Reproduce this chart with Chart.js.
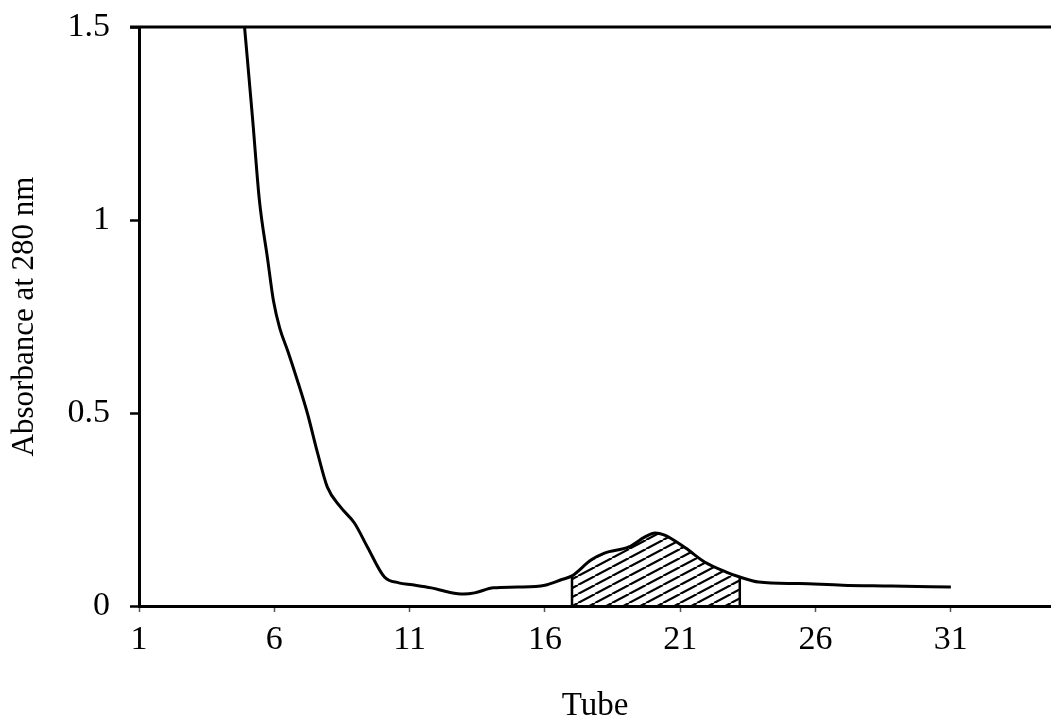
<!DOCTYPE html>
<html>
<head>
<meta charset="utf-8">
<script src="https://cdn.jsdelivr.net/npm/chart.js@4.4.1/dist/chart.umd.min.js"></script>
<style>
  html, body { margin: 0; padding: 0; background: #fff; }
</style>
</head>
<body>
<canvas id="chart" width="1051" height="726"></canvas>
<script>
// absorbance profile along the collected tubes
const tubes = [4.9, 5.2, 5.45, 5.75, 5.97, 6.2, 6.5, 6.85, 7.22, 7.6, 7.96, 8.45, 8.96, 9.44,
  10.07, 10.6, 11.1, 11.8, 12.5, 13.0, 13.4, 14.1, 15.0, 16.0, 16.6, 17.0, 17.7, 18.2,
  19.1, 19.7, 20.07, 20.4, 21.2, 21.9, 22.7, 23.2, 23.9, 25.4, 27.0, 28.8, 31.0]
const absorbance = [1.5, 1.26, 1.05, 0.9, 0.79, 0.72, 0.66, 0.585, 0.5, 0.396, 0.308, 0.256, 0.215, 0.153,
  0.075, 0.06, 0.055, 0.047, 0.035, 0.031, 0.034, 0.047, 0.049, 0.054, 0.068, 0.078, 0.119, 0.137,
  0.153, 0.179, 0.189, 0.184, 0.15, 0.114, 0.088, 0.075, 0.062, 0.058, 0.054, 0.052, 0.049]

// pooled fractions (hatched)
const poolFrom = 17.0
const poolTo = 23.2

const xTicks = [1, 6, 11, 16, 21, 26, 31]
const yTicks = [0, 0.5, 1, 1.5]
const yTickLabels = ['0', '0.5', '1', '1.5']

const points = tubes.map((t, i) => ({ x: t, y: absorbance[i] }))
const pooled = points.filter(p => p.x >= poolFrom && p.x <= poolTo)

// diagonal hatch tile
const tile = document.createElement('canvas')
tile.width = 17
tile.height = 9
const tctx = tile.getContext('2d')
tctx.strokeStyle = '#000'
tctx.lineWidth = 2.2
for (let dx = -17; dx <= 17; dx += 17) {
  tctx.beginPath()
  tctx.moveTo(dx, 9)
  tctx.lineTo(dx + 17, 0)
  tctx.stroke()
}
const hatch = tctx.createPattern(tile, 'repeat')

const serif = 'Liberation Serif'

// top frame line and the two edges of the pooled region
const framePlugin = {
  id: 'frame',
  afterDatasetsDraw(chart) {
    const { ctx, chartArea, scales } = chart
    ctx.save()
    ctx.strokeStyle = '#000'
    ctx.lineWidth = 3
    ctx.beginPath()
    ctx.moveTo(chartArea.left - 9, chartArea.top)
    ctx.lineTo(chartArea.right, chartArea.top)
    ctx.stroke()

    ctx.lineWidth = 2.5
    const y0 = scales.y.getPixelForValue(0)
    ;[pooled[0], pooled[pooled.length - 1]].forEach(p => {
      const px = scales.x.getPixelForValue(p.x)
      ctx.beginPath()
      ctx.moveTo(px, y0)
      ctx.lineTo(px, scales.y.getPixelForValue(p.y))
      ctx.stroke()
    })
    ctx.restore()
  }
}

new Chart(document.getElementById('chart'), {
  type: 'line',
  data: {
    datasets: [
      {
        data: points,
        borderColor: '#000',
        borderWidth: 3,
        pointRadius: 0,
        cubicInterpolationMode: 'monotone',
        fill: false,
        order: 0
      },
      {
        data: pooled,
        borderWidth: 0,
        borderColor: 'rgba(0,0,0,0)',
        backgroundColor: hatch,
        pointRadius: 0,
        cubicInterpolationMode: 'monotone',
        fill: 'origin',
        order: 1
      }
    ]
  },
  options: {
    responsive: false,
    animation: false,
    layout: { padding: { top: 27, right: 0, left: 0, bottom: 0 } },
    plugins: {
      legend: { display: false },
      tooltip: { enabled: false }
    },
    scales: {
      x: {
        type: 'linear',
        min: 1,
        max: 34.7,
        afterBuildTicks: scale => { scale.ticks = xTicks.map(v => ({ value: v })) },
        afterFit: scale => { scale.height = 120; scale.paddingLeft = 0; scale.paddingRight = 0 },
        ticks: {
          color: '#000',
          font: { family: serif, size: 34 },
          padding: 8,
          maxRotation: 0,
          callback: v => String(v)
        },
        grid: {
          drawOnChartArea: false,
          color: '#555',
          tickLength: 6,
          tickWidth: 1.5
        },
        border: { display: true, color: '#000', width: 3 },
        title: {
          display: true,
          text: 'Tube',
          color: '#000',
          font: { family: serif, size: 33 },
          padding: { top: 0, bottom: 0 }
        }
      },
      y: {
        min: 0,
        max: 1.5,
        afterBuildTicks: scale => { scale.ticks = yTicks.map(v => ({ value: v })) },
        afterFit: scale => { scale.width = 139; scale.paddingTop = 0; scale.paddingBottom = 0 },
        ticks: {
          color: '#000',
          font: { family: serif, size: 34 },
          padding: 20,
          callback: v => yTickLabels[yTicks.indexOf(v)]
        },
        grid: {
          drawOnChartArea: false,
          color: '#000',
          tickLength: 9,
          tickWidth: 2.5
        },
        border: { display: true, color: '#000', width: 3 },
        title: {
          display: true,
          text: 'Absorbance at 280 nm',
          color: '#000',
          font: { family: serif, size: 31 },
          padding: { top: 6, bottom: 0 }
        }
      }
    }
  },
  plugins: [framePlugin]
})
</script>
</body>
</html>
